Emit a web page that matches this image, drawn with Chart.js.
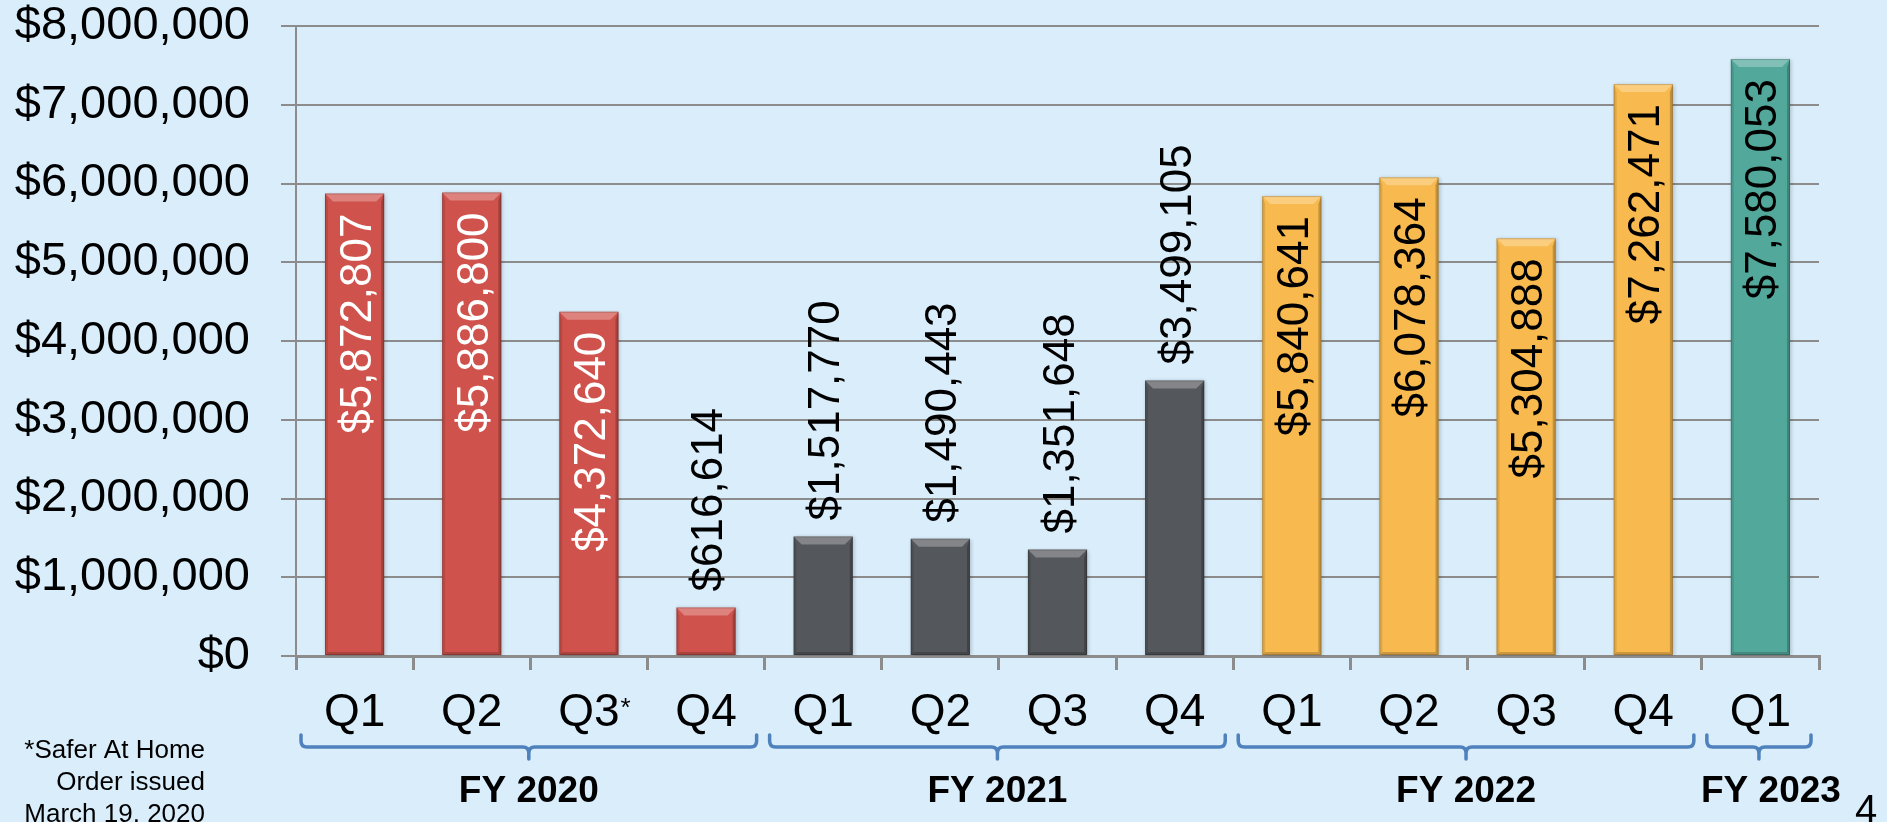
<!DOCTYPE html>
<html lang="en">
<head>
<meta charset="UTF-8">
<title>Quarterly totals FY 2020 - FY 2023</title>
<script src="https://cdn.jsdelivr.net/npm/chart.js"></script>
<style>
  html, body { margin: 0; padding: 0; background: #d9edfb; overflow: hidden; }
  #wrap { width: 1887px; height: 822px; }
</style>
</head>
<body>
<div id="wrap"><canvas id="myChart" width="1887" height="822"></canvas></div>
<script>
// --- data ---
const quarters = ['Q1', 'Q2', 'Q3', 'Q4', 'Q1', 'Q2', 'Q3', 'Q4', 'Q1', 'Q2', 'Q3', 'Q4', 'Q1'];
const yearOfBar = [0, 0, 0, 0, 1, 1, 1, 1, 2, 2, 2, 2, 3];
const fiscalYears = ['FY 2020', 'FY 2021', 'FY 2022', 'FY 2023'];
const amounts = [5872807, 5886800, 4372640, 616614, 1517770, 1490443, 1351648, 3499105,
                 5840641, 6078364, 5304888, 7262471, 7580053];
const yTicks = [0, 1000000, 2000000, 3000000, 4000000, 5000000, 6000000, 7000000, 8000000];
const footnote = ['*Safer At Home', 'Order issued', 'March 19, 2020'];
const pageNumber = '4';

// styles
const yearColors = ['#d0524c', '#54575b', '#f8ba4e', '#52a89b'];
const insideTextColors = ['#ffffff', '#ffffff', '#000000', '#000000'];
const FONT = '"Liberation Sans", Helvetica, Arial, sans-serif';
const insideFrom = 4000000; // labels go inside bars above this value

function money(v) {
    return '$' + v.toLocaleString('en-US');
}

function poly(ctx, pts, fill) {
    ctx.beginPath();
    ctx.moveTo(pts[0][0], pts[0][1]);
    for (let i = 1; i < pts.length; i++) ctx.lineTo(pts[i][0], pts[i][1]);
    ctx.closePath();
    ctx.fillStyle = fill;
    ctx.fill();
}

const slidePlugin = {
    id: 'slide',
    beforeDraw(chart) {
        const ctx = chart.ctx;
        ctx.save();
        ctx.fillStyle = '#d9edfb';
        ctx.fillRect(0, 0, chart.width, chart.height);
        ctx.restore();
    },
    beforeDatasetsDraw(chart) {
        // soft shadow round the bars
        const ctx = chart.ctx;
        ctx.save();
        ctx.shadowColor = 'rgba(0,0,0,0.22)';
        ctx.shadowBlur = 4;
        ctx.shadowOffsetX = 1;
        ctx.shadowOffsetY = 1;
    },
    afterDatasetsDraw(chart) {
        const ctx = chart.ctx;
        ctx.restore();
        const meta = chart.getDatasetMeta(0);

        // bevel on every bar
        meta.data.forEach(bar => {
            const l = bar.x - bar.width / 2, r = bar.x + bar.width / 2;
            const t = bar.y, b = bar.base;
            const e = Math.min(8, (b - t) / 2);
            const s = 3;
            poly(ctx, [[l, t], [r, t], [r - e, t + e], [l + e, t + e]], 'rgba(255,255,255,0.28)');
            poly(ctx, [[r, t], [r, b], [r - s, b - s], [r - s, t + e]], 'rgba(0,0,0,0.22)');
            poly(ctx, [[l, t], [l + s, t + e], [l + s, b - s], [l, b]], 'rgba(0,0,0,0.10)');
            poly(ctx, [[l, b], [l + s, b - s], [r - s, b - s], [r, b]], 'rgba(0,0,0,0.18)');
            ctx.strokeStyle = 'rgba(0,0,0,0.18)';
            ctx.lineWidth = 1;
            ctx.strokeRect(l + 0.5, t + 0.5, r - l - 1, b - t - 1);
        });

        // rotated value labels
        ctx.save();
        ctx.font = '44px ' + FONT;
        ctx.textBaseline = 'alphabetic';
        meta.data.forEach((bar, i) => {
            const v = amounts[i];
            const inside = v >= insideFrom;
            ctx.save();
            ctx.translate(bar.x, inside ? bar.y + 20 : bar.y - 16);
            ctx.rotate(-Math.PI / 2);
            ctx.textAlign = inside ? 'right' : 'left';
            ctx.fillStyle = inside ? insideTextColors[yearOfBar[i]] : '#000000';
            ctx.fillText(money(v), 0, 16);
            ctx.restore();
        });
        ctx.restore();
    },
    afterDraw(chart) {
        const ctx = chart.ctx;
        const xs = chart.scales.x;
        const axisY = chart.chartArea.bottom;
        const half = (xs.getPixelForValue(1) - xs.getPixelForValue(0)) / 2;
        ctx.save();

        // asterisk on FY2020 Q3
        ctx.font = '46px ' + FONT;
        const qw = ctx.measureText(quarters[2]).width;
        ctx.font = '26px ' + FONT;
        ctx.fillStyle = '#000';
        ctx.textAlign = 'left';
        ctx.textBaseline = 'alphabetic';
        ctx.fillText('*', xs.getPixelForValue(2) + qw / 2 + 1, axisY + 60);

        // brackets and fiscal year names
        ctx.strokeStyle = '#4f81bd';
        ctx.lineWidth = 3.5;
        ctx.lineCap = 'round';
        ctx.lineJoin = 'round';
        fiscalYears.forEach((fy, k) => {
            const idx = yearOfBar.map((y, i) => y === k ? i : -1).filter(i => i >= 0);
            const l = xs.getPixelForValue(idx[0]) - half + 5;
            const r = xs.getPixelForValue(idx[idx.length - 1]) + half - 8;
            const m = (l + r) / 2;
            const yl = axisY + 91, yt = axisY + 79, yb = axisY + 103, rr = 6;
            ctx.beginPath();
            ctx.moveTo(l, yt);
            ctx.lineTo(l, yl - rr);
            ctx.quadraticCurveTo(l, yl, l + rr, yl);
            ctx.lineTo(m - rr, yl);
            ctx.quadraticCurveTo(m, yl, m, yl + rr);
            ctx.lineTo(m, yb);
            ctx.moveTo(m, yl + rr);
            ctx.quadraticCurveTo(m, yl, m + rr, yl);
            ctx.lineTo(r - rr, yl);
            ctx.quadraticCurveTo(r, yl, r, yl - rr);
            ctx.lineTo(r, yt);
            ctx.stroke();

            ctx.font = 'bold 37px ' + FONT;
            ctx.textAlign = 'center';
            ctx.fillStyle = '#000';
            ctx.fillText(fy, m + (k === 3 ? 12 : 0), axisY + 146);
        });

        // footnote
        ctx.font = '26px ' + FONT;
        ctx.textAlign = 'right';
        footnote.forEach((line, i) => ctx.fillText(line, 205, 758 + i * 32));

        // slide number
        ctx.font = '40px ' + FONT;
        ctx.textAlign = 'left';
        ctx.fillText(pageNumber, 1855, 823);
        ctx.restore();
    }
};

const ctx = document.getElementById('myChart');
const barChart = new Chart(ctx, {
    type: 'bar',
    data: {
        labels: quarters,
        datasets: [{
            data: amounts,
            backgroundColor: yearOfBar.map(y => yearColors[y]),
            borderWidth: 0,
            barPercentage: 0.505,
            categoryPercentage: 1.0
        }]
    },
    options: {
        responsive: false,
        animation: false,
        devicePixelRatio: 1,
        layout: { padding: { top: 26, right: 68, left: 0, bottom: 0 } },
        plugins: {
            legend: { display: false },
            tooltip: { enabled: false }
        },
        scales: {
            x: {
                grid: {
                    offset: true,
                    drawOnChartArea: false,
                    drawTicks: true,
                    tickLength: 14,
                    color: '#8c8c8c',
                    lineWidth: 3
                },
                border: { color: '#8c8c8c', width: 3 },
                ticks: {
                    color: '#000',
                    font: { family: FONT, size: 46 },
                    padding: 16,
                    maxRotation: 0,
                    autoSkip: false
                },
                afterFit(scale) {
                    scale.height = 166;
                    scale.paddingLeft = 0;
                    scale.paddingRight = 0;
                }
            },
            y: {
                min: 0,
                max: 8000000,
                afterBuildTicks(scale) { scale.ticks = yTicks.map(v => ({ value: v })); },
                ticks: {
                    color: '#000',
                    font: { family: FONT, size: 47, lineHeight: 1.0 },
                    padding: 31,
                    callback: v => money(v)
                },
                grid: { color: '#8c8c8c', lineWidth: 2, tickLength: 15 },
                border: { color: '#8c8c8c', width: 2 },
                afterFit(scale) {
                    scale.width = 296;
                    scale.paddingTop = 0;
                    scale.paddingBottom = 0;
                }
            }
        }
    },
    plugins: [slidePlugin]
});
</script>
</body>
</html>
